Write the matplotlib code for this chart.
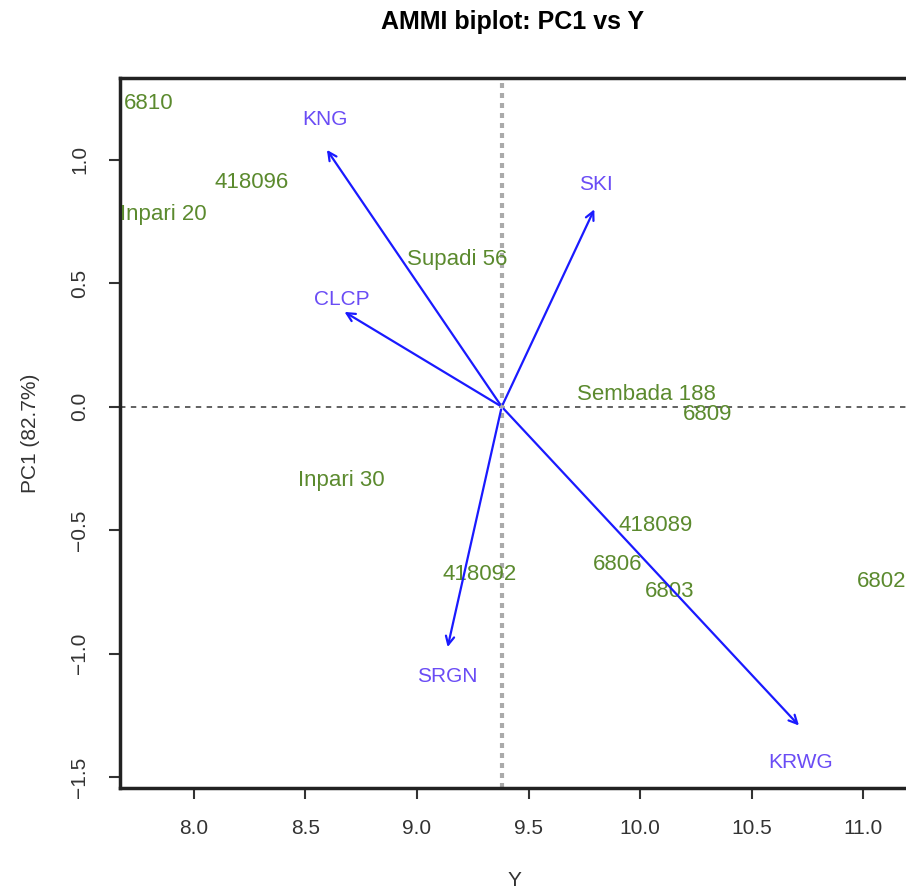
import numpy as np
import matplotlib.pyplot as plt

plt.rcParams['font.family'] = ['Liberation Sans', 'DejaVu Sans']

# genotipos (Y, PC1)
gen_names = ['6810', '418096', 'Inpari 20', 'Supadi 56', 'Sembada 188', '6809',
             'Inpari 30', '418089', '6806', '6803', '418092', '6802']
gen_y = [7.80, 8.26, 7.865, 9.18, 10.03, 10.30, 8.66, 10.07, 9.90, 10.13, 9.28, 11.08]
gen_pc1 = [1.23, 0.91, 0.78, 0.595, 0.05, -0.03, -0.30, -0.48, -0.64, -0.75, -0.68, -0.71]

# ambientes (punta de flecha)
env_names = ['KNG', 'SKI', 'CLCP', 'SRGN', 'KRWG']
env_y = [8.59, 9.80, 8.665, 9.135, 10.72]
env_pc1 = [1.05, 0.81, 0.39, -0.985, -1.30]

mean_y = 9.38

fig = plt.figure(figsize=(9.06, 8.96), dpi=100)
ax = fig.add_axes([120/906, 1-788/896, 788/906, (788-78)/896])

ax.axhline(0, color='#555555', linestyle=(0, (3, 3)), linewidth=1.3)
ax.axvline(mean_y, color='#aaaaaa', linestyle=(0, (1.2, 1.2)), linewidth=3)

for n, x, y in zip(gen_names, gen_y, gen_pc1):
    ax.text(x, y, n, color='#5b8a2e', fontsize=16, ha='center', va='center')

for n, x, y in zip(env_names, env_y, env_pc1):
    ax.annotate('', xy=(x, y), xytext=(mean_y, 0),
                arrowprops=dict(arrowstyle='->,head_length=0.6,head_width=0.3',
                                color='#1a1aff', lw=1.6))
    ax.text(x, y * 1.11, n, color='#6a4cf5', fontsize=15, ha='center', va='center')

ax.set_xlim(7.67, 11.2)
ax.set_ylim(-1.545, 1.332)
ax.set_xticks([8.0, 8.5, 9.0, 9.5, 10.0, 10.5, 11.0])
ax.set_xticklabels(['8.0', '8.5', '9.0', '9.5', '10.0', '10.5', '11.0'])
ax.set_yticks([-1.5, -1.0, -0.5, 0.0, 0.5, 1.0])
ax.set_yticklabels(['\u22121.5', '\u22121.0', '\u22120.5', '0.0', '0.5', '1.0'],
                   rotation=90, va='center')
ax.tick_params(axis='both', labelsize=15, length=8, width=1.5, color='#333333',
               labelcolor='#333333', pad=14)
for s in ax.spines.values():
    s.set_linewidth(2.5)
    s.set_color('#222222')

ax.set_xlabel('Y', fontsize=15, color='#333333', labelpad=24)
ax.set_ylabel('PC1 (82.7%)', fontsize=15, color='#333333', labelpad=22)
fig.text(513/906, 1-22/896, 'AMMI biplot: PC1 vs Y', fontsize=18, fontweight='bold',
         ha='center', va='center')

plt.savefig('out.png', dpi=100)
